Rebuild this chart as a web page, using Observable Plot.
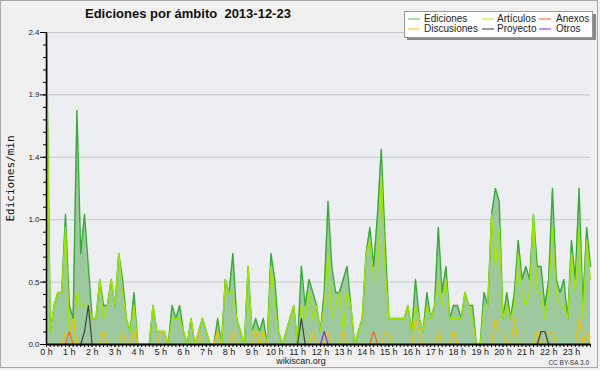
<!DOCTYPE html>
<html><head><meta charset="utf-8">
<script src="https://cdn.jsdelivr.net/npm/d3@7"></script>
<script src="https://cdn.jsdelivr.net/npm/@observablehq/plot@0.6"></script>
<style>
html,body{margin:0;padding:0;background:#f0f0f0}
#wrap{position:relative;width:600px;height:370px;background:#f0f0f0;overflow:hidden}
svg{display:block}
</style></head><body><div id="wrap"></div>
<script>
// Edits per minute, one value per 10-minute slot (144 slots, 0 h .. 23:50)
const ediciones = [2.4,0.1,0.3,0.4,0.4,1.0,0.3,0.2,1.8,0.7, 1.0,0.6,0.2,0.2,0.5,0.3,0.3,0.5,0.3,0.7, 0.5,0.2,0.1,0.4,0,0,0,0,0.3,0.1, 0.1,0.1,0,0.3,0.2,0.3,0.1,0,0.2,0, 0.1,0.2,0.1,0,0,0.2,0,0.5,0.4,0.7, 0.2,0.1,0,0.6,0.1,0.2,0.1,0.2,0,0.7, 0.5,0.1,0,0.1,0.2,0.3,0,0.6,0.3,0.5, 0.4,0.3,0.1,0.4,1.1,0.6,0.4,0.4,0.5,0.6, 0.3,0,0.1,0.2,0.7,0.9,0.6,1.0,1.5,0.8, 0.2,0.2,0.2,0.2,0.2,0.3,0.1,0.5,0.2,0.1, 0.4,0.2,0.3,0.9,0.4,0.6,0.2,0.3,0.3,0.2, 0.4,0.3,0.3,0,0,0.4,0.3,1.0,1.2,1.1, 0.2,0.4,0.2,0.4,0.8,0.5,0.6,0.5,1.0,0.6, 0.6,0.3,0.5,1.2,0.5,0.4,0.5,0.2,0.8,0.5, 1.2,0.3,0.9,0.6];
const articulos = [2.3,0.1,0.3,0.4,0.4,0.9,0.1,0,0.4,0.3, 0.3,0.3,0.2,0.2,0.5,0.2,0.3,0.5,0.3,0.7, 0.4,0.2,0.1,0.3,0,0,0,0,0.3,0.1, 0.1,0.1,0,0.2,0.2,0.2,0.1,0,0.2,0, 0.1,0.2,0.1,0,0,0.1,0,0.5,0.4,0.4, 0.2,0.1,0,0.6,0.1,0.1,0.1,0.1,0,0.6, 0.3,0.1,0,0.1,0.2,0.3,0,0.3,0.2,0.4, 0.2,0.3,0.1,0.3,0.7,0.2,0.3,0.4,0.1,0.4, 0.3,0,0.1,0.2,0.7,0.8,0.5,0.5,1.3,0.6, 0.2,0.2,0.2,0.2,0.2,0.3,0.1,0.3,0.2,0.1, 0.3,0.2,0.3,0.5,0.3,0.5,0.2,0.2,0.2,0.2, 0.4,0.3,0.2,0,0,0.3,0.3,1.0,0.6,0.9, 0.2,0.3,0.2,0.3,0.7,0.4,0.3,0.4,1.0,0.4, 0.4,0.2,0.4,0.9,0.4,0.3,0.3,0.2,0.7,0.4, 0.9,0.2,0.8,0.5];
const discusiones = [0,0,0,0,0,0.1,0.1,0.2,0,0, 0,0,0,0,0,0.1,0,0,0,0, 0.1,0,0,0.1,0,0,0,0,0,0, 0.1,0.1,0,0,0,0,0,0,0,0, 0.1,0,0,0,0,0.1,0,0,0,0.1, 0,0,0,0,0,0.1,0,0.1,0,0, 0,0,0,0,0,0,0,0,0,0, 0.1,0,0,0,0.1,0,0,0,0.1,0, 0,0,0,0,0,0,0,0,0,0.1, 0.1,0,0,0,0,0,0,0.2,0.1,0, 0,0,0,0.1,0,0,0,0.1,0,0, 0,0,0,0,0,0,0,0,0.2,0.1, 0.1,0,0,0.2,0,0,0,0,0,0.1, 0,0,0.1,0.1,0,0,0,0,0,0, 0.2,0,0.1,0];
const anexos = [0,0,0,0,0,0,0.1,0,0,0, 0,0,0,0,0,0,0,0,0,0, 0,0,0,0,0,0,0,0,0,0, 0,0,0,0,0,0,0,0,0,0, 0,0,0,0,0,0,0,0,0,0, 0,0,0,0,0,0,0,0,0,0, 0,0,0,0,0,0,0,0,0,0, 0,0,0,0,0,0,0,0,0,0, 0,0,0,0,0,0,0.1,0,0,0, 0,0,0,0,0,0,0,0,0,0, 0,0,0,0,0,0,0,0,0,0, 0,0,0,0,0,0,0,0,0,0, 0,0,0,0,0,0,0,0,0,0, 0,0,0,0,0,0,0,0,0,0, 0,0,0,0];
const proyecto = [0,0,0,0,0,0,0,0,0,0, 0.1,0.3,0,0,0,0,0,0,0,0, 0,0,0,0,0,0,0,0,0,0, 0,0,0,0,0,0,0,0,0,0, 0,0,0,0,0,0,0,0,0,0, 0,0,0,0,0,0,0,0,0,0, 0,0,0,0,0,0,0,0.2,0,0, 0,0,0,0,0,0,0,0,0,0, 0,0,0,0,0,0,0,0,0,0, 0,0,0,0,0,0,0,0,0,0, 0,0,0,0,0,0,0,0,0,0, 0,0,0,0,0,0,0,0,0,0, 0,0,0,0,0,0,0,0,0,0, 0.1,0.1,0,0,0,0,0,0,0,0, 0,0,0,0];
const otros = [0,0,0,0,0,0,0,0,0,0, 0,0,0,0,0,0,0,0,0,0, 0,0,0,0,0,0,0,0,0,0, 0,0,0,0,0,0,0,0,0,0, 0,0,0,0,0,0,0,0,0,0, 0,0,0,0,0,0,0,0,0,0, 0,0,0,0,0,0,0,0,0,0, 0,0,0,0.1,0,0,0,0,0,0, 0,0,0,0,0,0,0,0,0,0, 0,0,0,0,0,0,0,0,0,0, 0,0,0,0,0,0,0,0,0,0, 0,0,0,0,0,0,0,0,0,0, 0,0,0,0,0,0,0,0,0,0, 0,0,0,0,0,0,0,0,0,0, 0,0,0,0];

const seriesNames = ["Ediciones","Artículos","Anexos","Discusiones","Proyecto","Otros"];
const seriesColors = ["#39aa39","#9fe600","#f0692a","#f2c100","#404040","#8a2be2"];
const legendColors = ["#66cc66","#ccee33","#ff7744","#ffcc33","#555555","#9944ff"];

const yTickValues = [0, 0.48, 0.96, 1.44, 1.92, 2.4];
const yTickLabels = ["0.0","0.5","1.0","1.4","1.9","2.4"];
const hourTicks = [0,1,2,3,4,5,6,7,8,9,10,11,12,13,14,15,16,17,18,19,20,21,22,23];
const hourLabels = ["0 h","1 h","2 h","3 h","4 h","5 h","6 h","7 h","8 h","9 h","10 h","11 h","12 h","13 h","14 h","15 h","16 h","17 h","18 h","19 h","20 h","21 h","22 h","23 h"];

const titleText = "Ediciones por ámbito\u00a0\u00a02013-12-23";
const yLabelText = "Ediciones/min";
const siteText = "wikiscan.org";
const licenseText = "CC BY-SA 3.0";

const slots = ediciones.map((_, i) => i / 6); // hour of each 10-min slot
const rows = slots.map((t, i) => ({t, ed: ediciones[i], ar: articulos[i], di: discusiones[i], an: anexos[i], pr: proyecto[i], ot: otros[i]}));
const yMinor = d3.range(0, 26).map(k => k * 0.096);

const lineOf = (key, color, w) => Plot.lineY(rows, {x: "t", y: key, stroke: color, strokeWidth: w});

const chart = Plot.plot({
  width: 600, height: 370,
  marginLeft: 46, marginRight: 10, marginTop: 32, marginBottom: 26,
  x: {domain: [0, 143 / 6]},
  y: {domain: [0, 2.4]},
  style: {fontFamily: "'Liberation Sans', Arial, sans-serif", fontSize: "8px", background: "transparent", color: "#222", overflow: "visible"},
  marks: [
    Plot.frame({fill: "#eceef1", stroke: null}),
    Plot.ruleY(yTickValues.slice(1), {stroke: "#c8c8c8", strokeWidth: 1}),
    Plot.areaY(rows, {x: "t", y: "ed", fill: "#9ec99e"}),
    lineOf("ed", seriesColors[0], 1.4),
    lineOf("ar", seriesColors[1], 1.3),
    lineOf("di", seriesColors[3], 1.2),
    lineOf("an", seriesColors[2], 1.2),
    lineOf("pr", seriesColors[4], 1.2),
    lineOf("ot", seriesColors[5], 1.2),
    Plot.axisY(yMinor, {tickSize: 3, tickFormat: () => "", label: null, stroke: "#000"}),
    Plot.axisY(yTickValues, {tickSize: 6, tickPadding: 1, tickFormat: d => yTickLabels[yTickValues.indexOf(d)], label: null, fontSize: 8, stroke: "#000", fill: "#222"}),
    Plot.axisX(slots, {tickSize: 3, tickFormat: () => "", label: null, stroke: "#000"}),
    Plot.axisX(hourTicks, {tickSize: 3, tickPadding: 1, tickFormat: d => hourLabels[d], label: null, fontSize: 9, fill: "#222"}),
    Plot.ruleX([0], {stroke: "#000", strokeWidth: 1.5}),
    Plot.ruleY([0], {stroke: "#000", strokeWidth: 2})
  ]
});

document.getElementById("wrap").appendChild(chart);
const svg = d3.select(chart);
const FONT = "'Liberation Sans', Arial, sans-serif";

// outer frame
svg.insert("rect", ":first-child").attr("x", 0.5).attr("y", 0.5).attr("width", 597).attr("height", 367)
  .attr("fill", "#f0f0f0").attr("stroke", "#a8a8a8");

// title
svg.append("text").attr("x", 85).attr("y", 18).attr("text-anchor", "start").attr("font-family", FONT)
  .attr("font-weight", "bold").attr("font-size", 13).attr("fill", "#111").text(titleText);

// y label
svg.append("text").attr("transform", "translate(14,178.5) rotate(-90)").attr("text-anchor", "middle")
  .attr("font-family", "'DejaVu Sans Mono', monospace").attr("font-size", 11).attr("fill", "#111").text(yLabelText);

// footer
svg.append("text").attr("x", 301).attr("y", 364).attr("text-anchor", "middle").attr("font-size", 9)
  .attr("font-family", FONT).attr("fill", "#222").text(siteText);
svg.append("text").attr("x", 589).attr("y", 365).attr("text-anchor", "end").attr("font-size", 6.5)
  .attr("font-family", FONT).attr("fill", "#333").text(licenseText);

// legend
const lg = svg.append("g");
lg.append("rect").attr("x", 407).attr("y", 14).attr("width", 189).attr("height", 26).attr("fill", "#888");
lg.append("rect").attr("x", 404.5).attr("y", 11.5).attr("width", 188).attr("height", 26).attr("fill", "#fff").attr("stroke", "#9a9a9a");
const cols = [408, 482, 539];
const textX = [424, 497, 556];
const rowsY = [19, 29];
seriesNames.forEach((name, k) => {
  const c = k % 3, r = Math.floor(k / 3);
  lg.append("line").attr("x1", cols[c]).attr("x2", cols[c] + 12).attr("y1", rowsY[r]).attr("y2", rowsY[r])
    .attr("stroke", legendColors[k]).attr("stroke-width", 1.2);
  lg.append("text").attr("x", textX[c]).attr("y", rowsY[r] + 3.4).attr("text-anchor", "start").attr("font-size", 10)
    .attr("font-family", FONT).attr("fill", "#222").text(name);
});
</script></body></html>
